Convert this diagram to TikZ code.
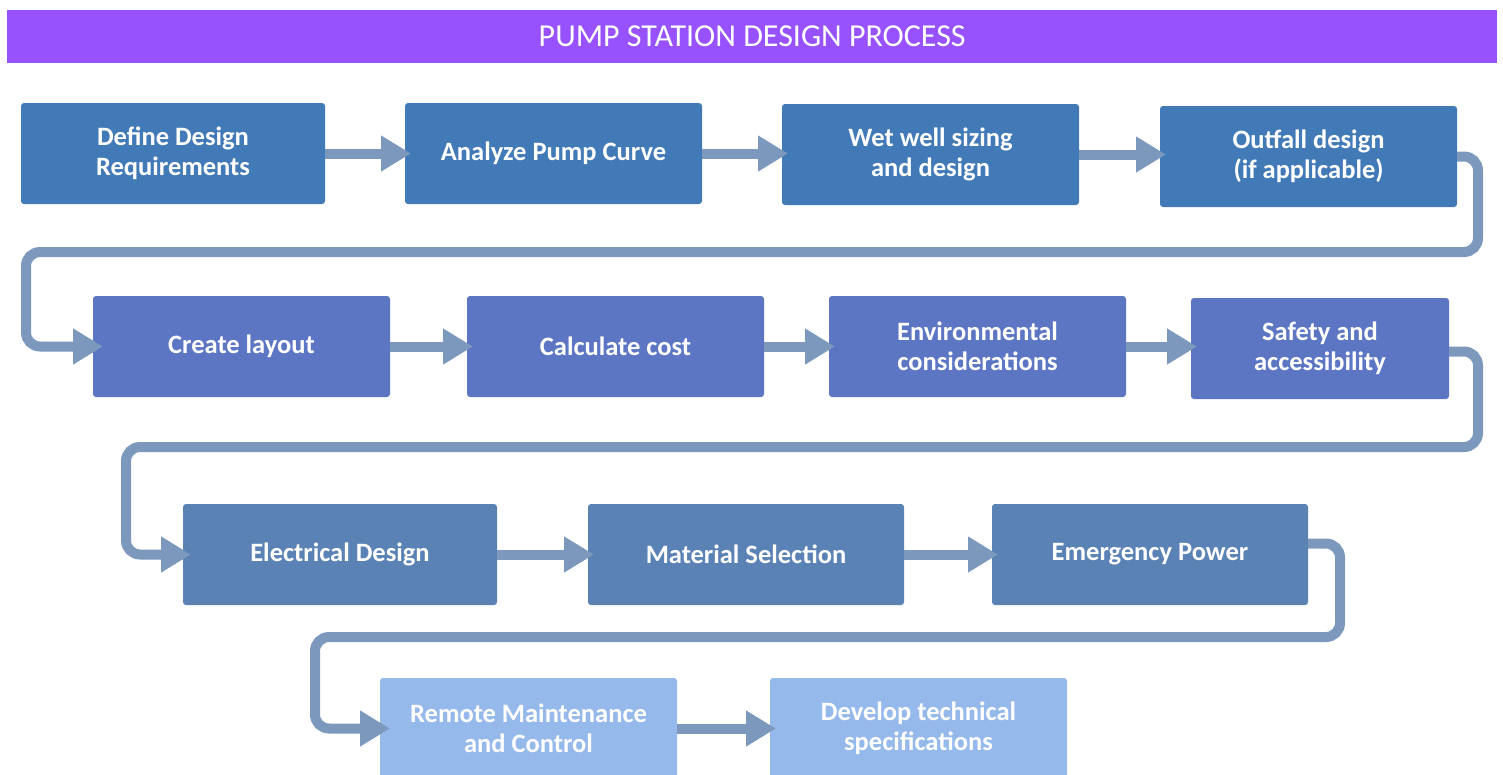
\documentclass[tikz,border=0pt]{standalone}
\usepackage{fontspec}
\setmainfont{Carlito}
\usetikzlibrary{arrows.meta,calc}
\definecolor{titlebg}{RGB}{151,82,253}
\definecolor{rowA}{RGB}{66,122,183}
\definecolor{rowB}{RGB}{93,118,196}
\definecolor{rowC}{RGB}{90,130,181}
\definecolor{rowD}{RGB}{150,185,235}
\definecolor{arrowc}{RGB}{124,153,189}
\begin{document}
\begin{tikzpicture}[x=1pt,y=-1pt,
  box/.style={anchor=north west, inner sep=0pt, outer sep=0pt, rounded corners=3pt,
    text=white, font=\bfseries\fontsize{26.5}{30}\selectfont, align=center,
    minimum height=101pt},
  flow/.style={draw=arrowc, line width=10pt, -{Triangle[length=30pt,width=34pt]}, shorten >=-6pt},
  bendflow/.style={flow, rounded corners=14pt}]
\clip (0,0) rectangle (1503,774);
\fill[white] (0,0) rectangle (1503,774);
% title
\node[anchor=north west, fill=titlebg, minimum width=1490pt, minimum height=53pt,
  inner sep=0pt, text=white, font=\fontsize{32}{36}\selectfont] (title) at (7,10)
  {PUMP STATION DESIGN PROCESS};
% row 1
\node[box, fill=rowA, minimum width=304pt] (b1) at (21,103) {Define Design\\Requirements};
\node[box, fill=rowA, minimum width=297pt] (b2) at (405,103) {Analyze Pump Curve};
\node[box, fill=rowA, minimum width=297pt] (b3) at (782,104) {Wet well sizing\\and design};
\node[box, fill=rowA, minimum width=297pt] (b4) at (1160,106) {Outfall design\\(if applicable)};
% row 2
\node[box, fill=rowB, minimum width=297pt] (b5) at (93,296) {Create layout};
\node[box, fill=rowB, minimum width=297pt] (b6) at (467,296) {Calculate cost};
\node[box, fill=rowB, minimum width=297pt] (b7) at (829,296) {Environmental\\considerations};
\node[box, fill=rowB, minimum width=258pt] (b8) at (1191,298) {Safety and\\accessibility};
% row 3
\node[box, fill=rowC, minimum width=314pt] (b9) at (183,504) {Electrical Design};
\node[box, fill=rowC, minimum width=316pt] (b10) at (588,504) {Material Selection};
\node[box, fill=rowC, minimum width=316pt] (b11) at (992,504) {Emergency Power};
% row 4
\node[box, fill=rowD, minimum width=297pt] (b12) at (380,678) {Remote Maintenance\\and Control};
\node[box, fill=rowD, minimum width=297pt] (b13) at (770,678) {Develop technical\\specifications};
% waypoints
\coordinate (w1) at (1478,252);
\coordinate (w2) at (26,252);
\coordinate (w3) at (1478,447);
\coordinate (w4) at (126,447);
\coordinate (w5) at (1340,637);
\coordinate (w6) at (315,637);
% straight arrows
\draw[flow] (b1.east) -- (b1.east -| b2.west);
\draw[flow] (b2.east) -- (b2.east -| b3.west);
\draw[flow] (b3.east) -- (b3.east -| b4.west);
\draw[flow] (b5.east) -- (b5.east -| b6.west);
\draw[flow] (b6.east) -- (b6.east -| b7.west);
\draw[flow] (b7.east) -- (b7.east -| b8.west);
\draw[flow] (b9.east) -- (b9.east -| b10.west);
\draw[flow] (b10.east) -- (b10.east -| b11.west);
\draw[flow] (b12.east) -- (b12.east -| b13.west);
% row-wrapping connectors
\draw[bendflow, shorten >=-10pt] (b4.east) -| (w1) -- (w2) |- (b5.west);
\draw[bendflow, shorten >=-8pt] ([yshift=-3pt]b8.east) -| (w3) -- (w4) |- (b9.west);
\draw[bendflow, shorten >=-10pt] ([yshift=11pt]b11.east) -| (w5) -- (w6) |- (b12.west);
\end{tikzpicture}
\end{document}
